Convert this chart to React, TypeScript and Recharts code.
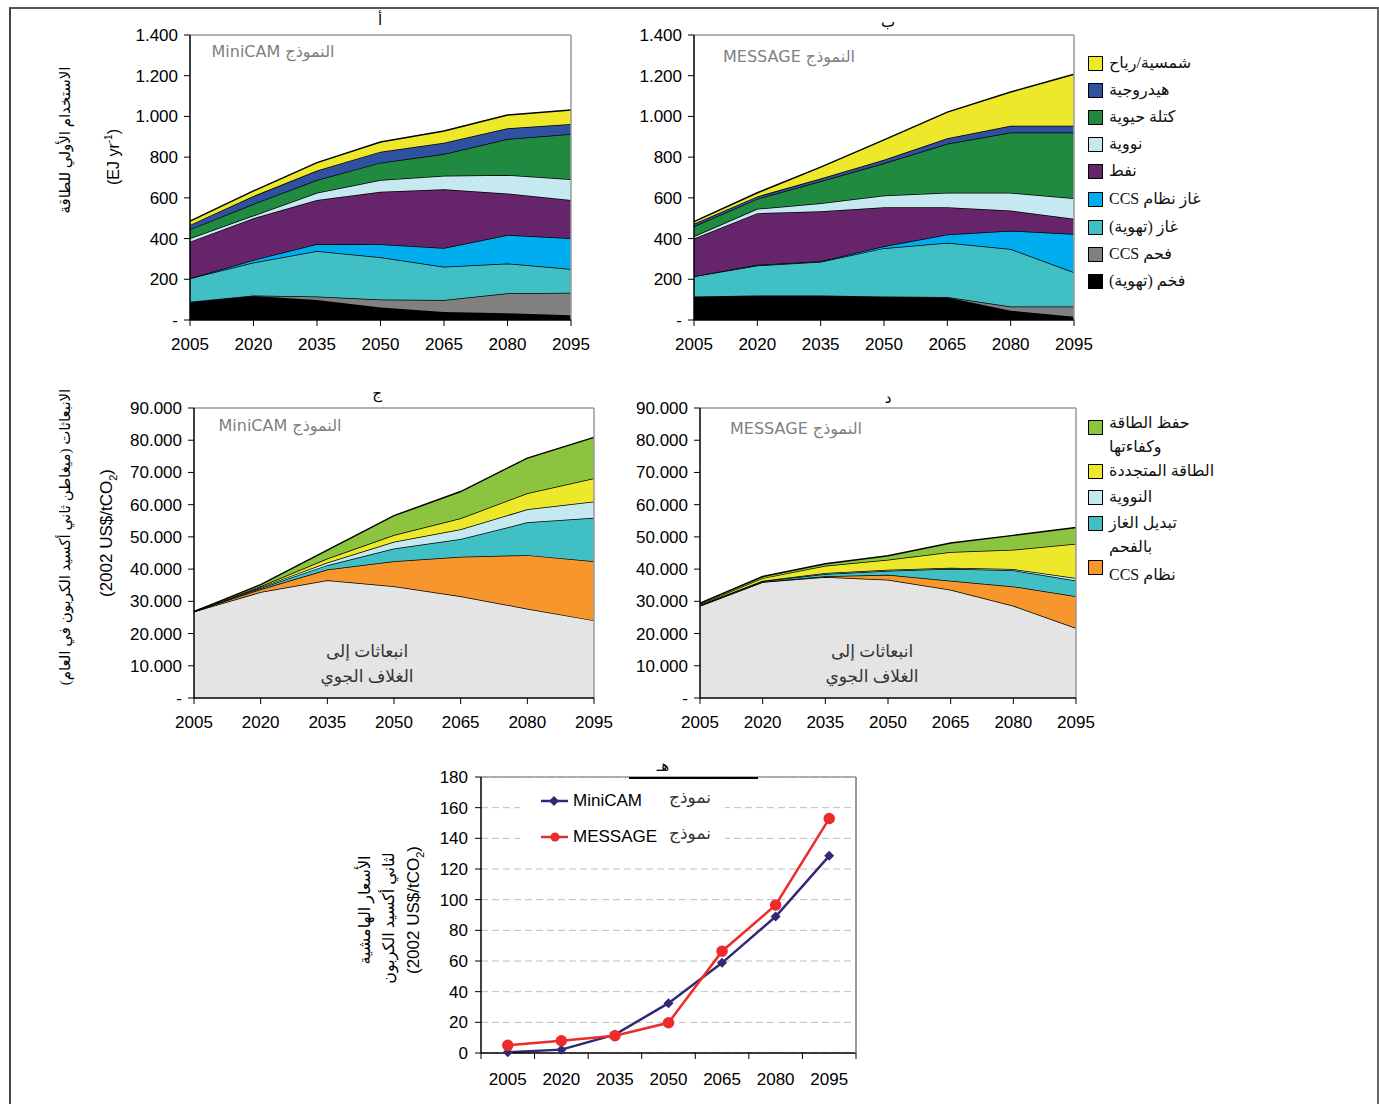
import React from 'react';
import { AreaChart, Area, LineChart, Line, XAxis, YAxis, CartesianGrid, ReferenceLine } from 'recharts';

const years = ['2005', '2020', '2035', '2050', '2065', '2080', '2095'];

// Primary energy, EJ/yr - MiniCAM (chart أ)
const mcCoal = [90, 118, 98, 62, 39, 33, 23];
const mcCoalCcs = [0, 2, 17, 39, 59, 98, 111];
const mcGas = [115, 162, 224, 207, 164, 147, 116];
const mcGasCcs = [0, 13, 34, 64, 92, 140, 151];
const mcOil = [180, 205, 216, 258, 288, 204, 188];
const mcNuclear = [16, 13, 36, 58, 67, 90, 102];
const mcBiomass = [44, 57, 63, 85, 106, 177, 223];
const mcHydro = [22, 39, 46, 54, 56, 53, 49];
const mcSolar = [19, 25, 39, 47, 57, 65, 69];

// Primary energy, EJ/yr - MESSAGE (chart ب)
const msCoal = [115, 120, 120, 115, 110, 46, 16];
const msCoalCcs = [0, 0, 0, 0, 3, 20, 50];
const msGas = [100, 148, 166, 238, 266, 283, 168];
const msGasCcs = [0, 3, 3, 9, 41, 90, 189];
const msOil = [185, 254, 245, 192, 134, 99, 74];
const msNuclear = [11, 21, 40, 57, 71, 87, 101];
const msBiomass = [49, 49, 108, 159, 241, 296, 323];
const msHydro = [13, 12, 13, 17, 27, 33, 33];
const msSolar = [10, 18, 56, 98, 128, 166, 253];

// Emissions - MiniCAM (chart ج)
const mcAtm = [26800, 32900, 36550, 34680, 31570, 27730, 24090];
const mcCcs = [0, 850, 3330, 7790, 12250, 16610, 18380];
const mcSwitch = [0, 350, 1350, 3950, 5510, 10180, 13500];
const mcNuc = [0, 300, 830, 2070, 3010, 4050, 4990];
const mcRen = [0, 300, 1240, 2080, 3420, 4980, 7260];
const mcEff = [0, 500, 2600, 6020, 8310, 10910, 12670];

// Emissions - MESSAGE (chart د)
const msAtm = [28650, 36000, 37540, 36710, 33610, 28650, 21720];
const msCcs = [0, 100, 210, 1550, 2790, 5990, 9820];
const msSwitch = [200, 200, 720, 1240, 3720, 4970, 4960];
const msNuc = [100, 100, 310, 310, 310, 410, 730];
const msRen = [200, 800, 2270, 3110, 4860, 6000, 10650];
const msEff = [300, 500, 630, 1240, 2800, 4450, 5070];

// Marginal carbon price (chart هـ)
const priceMiniCam = [0.5, 2.2, 12, 32.5, 58.8, 89, 128.6];
const priceMessage = [5, 8, 11.3, 19.7, 66.4, 96.5, 152.9];

const energyTicks = [0, 200, 400, 600, 800, 1000, 1200, 1400];
const emissionTicks = [0, 10000, 20000, 30000, 40000, 50000, 60000, 70000, 80000, 90000];
const priceTicks = [0, 20, 40, 60, 80, 100, 120, 140, 160, 180];

const energyLayers = [
  { key: 'coal', name: 'فخم (تهوية)', color: '#000000' },
  { key: 'coalCcs', name: 'فحم CCS', color: '#808080' },
  { key: 'gas', name: 'غاز (تهوية)', color: '#40C0C4' },
  { key: 'gasCcs', name: 'غاز نظام CCS', color: '#00AEEF' },
  { key: 'oil', name: 'نفط', color: '#66256A' },
  { key: 'nuclear', name: 'نووية', color: '#C6E8F0' },
  { key: 'biomass', name: 'كتلة حيوية', color: '#1F8A40' },
  { key: 'hydro', name: 'هيدروجية', color: '#3050A0' },
  { key: 'solar', name: 'شمسية/رياح', color: '#EEE82A' },
];

const emissionLayers = [
  { key: 'atm', color: '#E4E4E4' },
  { key: 'ccs', color: '#F7962D' },
  { key: 'switch', color: '#40C0C4' },
  { key: 'nuc', color: '#C6E8F0' },
  { key: 'ren', color: '#EEE82A' },
  { key: 'eff', color: '#8DC43F' },
];

const energyMini = years.map((year, i) => ({
  year, coal: mcCoal[i], coalCcs: mcCoalCcs[i], gas: mcGas[i], gasCcs: mcGasCcs[i], oil: mcOil[i],
  nuclear: mcNuclear[i], biomass: mcBiomass[i], hydro: mcHydro[i], solar: mcSolar[i],
}));
const energyMessage = years.map((year, i) => ({
  year, coal: msCoal[i], coalCcs: msCoalCcs[i], gas: msGas[i], gasCcs: msGasCcs[i], oil: msOil[i],
  nuclear: msNuclear[i], biomass: msBiomass[i], hydro: msHydro[i], solar: msSolar[i],
}));
const emisMini = years.map((year, i) => ({
  year, atm: mcAtm[i], ccs: mcCcs[i], switch: mcSwitch[i], nuc: mcNuc[i], ren: mcRen[i], eff: mcEff[i],
}));
const emisMessage = years.map((year, i) => ({
  year, atm: msAtm[i], ccs: msCcs[i], switch: msSwitch[i], nuc: msNuc[i], ren: msRen[i], eff: msEff[i],
}));
const priceData = years.map((year, i) => ({ year, minicam: priceMiniCam[i], message: priceMessage[i] }));

const AXIS_FONT = "'Liberation Sans', Arial, sans-serif";
const AR_FONT = "'Liberation Serif', 'DejaVu Sans', serif";
const BOX_FONT = "'DejaVu Sans', Verdana, sans-serif";

const dotted = (v: number) => (v === 0 ? '-' : String(v).replace(/\B(?=(\d{3})+(?!\d))/g, '.'));

const tickStyle = { fill: '#000', fontSize: 17, fontFamily: AXIS_FONT };

type StackProps = {
  data: any[];
  layers: { key: string; color: string }[];
  width: number;
  height: number;
  ticks: number[];
  yWidth: number;
};

const StackChart = ({ data, layers, width, height, ticks, yWidth }: StackProps) => (
  <AreaChart width={width} height={height} data={data} margin={{ top: 15, right: 20, left: 0, bottom: 0 }}>
    <XAxis dataKey="year" interval={0} height={40} tickMargin={12} tick={tickStyle}
      axisLine={{ stroke: '#000', strokeWidth: 1.5 }} tickLine={{ stroke: '#000' }} />
    <YAxis domain={[0, ticks[ticks.length - 1]]} ticks={ticks} interval={0} width={yWidth} tickMargin={6}
      tickFormatter={dotted} tick={tickStyle} axisLine={{ stroke: '#000', strokeWidth: 1.5 }} tickLine={{ stroke: '#000' }} />
    {layers.map((l) => (
      <Area key={l.key} type="linear" dataKey={l.key} stackId="s" stroke="#000" strokeWidth={1.5}
        fill={l.color} fillOpacity={1} dot={false} activeDot={false} isAnimationActive={false} />
    ))}
    <ReferenceLine y={ticks[ticks.length - 1]} stroke="#999" strokeWidth={1.5} />
    <ReferenceLine x={years[years.length - 1]} stroke="#999" strokeWidth={1.5} />
  </AreaChart>
);

// bottom chart geometry
const P_W = 465;
const P_H = 331;
const P_PLOT_W = 375;
const STEP = P_PLOT_W / years.length;
const P_AXIS_Y = P_H - 40;

const PriceTick = (props: any) => {
  const { x, payload, index } = props;
  return (
    <g>
      <line x1={x - STEP / 2} x2={x - STEP / 2} y1={P_AXIS_Y} y2={P_AXIS_Y + 6} stroke="#000" />
      {index === years.length - 1 && (
        <line x1={x + STEP / 2} x2={x + STEP / 2} y1={P_AXIS_Y} y2={P_AXIS_Y + 6} stroke="#000" />
      )}
      <text x={x} y={P_AXIS_Y + 32} textAnchor="middle" fill="#000" fontSize={17} fontFamily={AXIS_FONT}>
        {payload.value}
      </text>
    </g>
  );
};

const Diamond = (props: any) => {
  const { cx, cy, index } = props;
  return <polygon key={`d${index}`} points={`${cx},${cy - 5} ${cx + 5},${cy} ${cx},${cy + 5} ${cx - 5},${cy}`} fill="#2E2A78" />;
};

const Txt = ({ x, y, children, style }: { x: number; y: number; children: React.ReactNode; style?: React.CSSProperties }) => (
  <div style={{ position: 'absolute', left: x, top: y, transform: 'translate(-50%, -50%)', whiteSpace: 'nowrap', ...style }}>
    {children}
  </div>
);

const VTxt = ({ x, y, children, style }: { x: number; y: number; children: React.ReactNode; style?: React.CSSProperties }) => (
  <div style={{ position: 'absolute', left: x, top: y, transform: 'translate(-50%, -50%) rotate(-90deg)', whiteSpace: 'nowrap', ...style }}>
    {children}
  </div>
);

const LegendRow = ({ y, color, lines, textY }: { y: number; color: string; lines: string[]; textY?: number }) => (
  <>
    <div style={{ position: 'absolute', left: 1088, top: y - 7, width: 13, height: 13, background: color, border: '1px solid #000' }} />
    <div style={{ position: 'absolute', left: 1109, top: (textY ?? y) - 12, fontFamily: AR_FONT, fontSize: 16, lineHeight: '24px', color: '#111', whiteSpace: 'nowrap', direction: 'ltr', textAlign: 'left' }}>
      {lines.map((t) => (
        <div key={t}><span dir="rtl">{t}</span></div>
      ))}
    </div>
  </>
);

const energyLegendY = [281, 254, 227, 199, 171, 144, 117, 90, 63];

const modelLabel = { fontFamily: BOX_FONT, fontSize: 16, color: '#808080' };
const arLabel = { fontFamily: AR_FONT, fontSize: 17, color: '#333' };

export default function App() {
  return (
    <div style={{ position: 'absolute', left: 0, top: 0, width: 1379, height: 1104, background: '#fff', overflow: 'hidden' }}>
      <div style={{ position: 'absolute', left: 9, top: 7, width: 1366, height: 1110, borderTop: '2px solid #555', borderLeft: '2px solid #444', borderRight: '2px solid #666' }} />

      {/* charts */}
      <div style={{ position: 'absolute', left: 100, top: 20 }}>
        <StackChart data={energyMini} layers={energyLayers} width={491} height={340} ticks={energyTicks} yWidth={90} />
      </div>
      <div style={{ position: 'absolute', left: 604, top: 20 }}>
        <StackChart data={energyMessage} layers={energyLayers} width={490} height={340} ticks={energyTicks} yWidth={90} />
      </div>
      <div style={{ position: 'absolute', left: 104, top: 393 }}>
        <StackChart data={emisMini} layers={emissionLayers} width={510} height={345} ticks={emissionTicks} yWidth={90} />
      </div>
      <div style={{ position: 'absolute', left: 610, top: 393 }}>
        <StackChart data={emisMessage} layers={emissionLayers} width={486} height={345} ticks={emissionTicks} yWidth={90} />
      </div>
      <div style={{ position: 'absolute', left: 411, top: 762 }}>
        <LineChart width={P_W} height={P_H} data={priceData} margin={{ top: 15, right: 20, left: 0, bottom: 0 }}>
          <CartesianGrid vertical={false} stroke="#BDBDBD" strokeDasharray="7 4" />
          <XAxis dataKey="year" interval={0} height={40} padding={{ left: STEP / 2, right: STEP / 2 }}
            tick={<PriceTick />} tickLine={false} axisLine={{ stroke: '#000', strokeWidth: 1.5 }} />
          <YAxis domain={[0, 180]} ticks={priceTicks} interval={0} width={70} tickMargin={7} tick={tickStyle}
            axisLine={{ stroke: '#000', strokeWidth: 1.5 }} tickLine={{ stroke: '#000' }} />
          <ReferenceLine y={180} stroke="#999" strokeWidth={1.5} />
          <Line type="linear" dataKey="minicam" stroke="#2E2A78" strokeWidth={2.5} dot={<Diamond />} activeDot={false} isAnimationActive={false} />
          <Line type="linear" dataKey="message" stroke="#EE2B2B" strokeWidth={2.5} dot={{ r: 4.5, fill: '#EE2B2B', stroke: '#EE2B2B' }} activeDot={false} isAnimationActive={false} />
        </LineChart>
      </div>

      {/* bottom chart frame + legend */}
      <div style={{ position: 'absolute', left: 855, top: 777, width: 1.5, height: 276, background: '#999' }} />
      <div style={{ position: 'absolute', left: 520, top: 784, width: 205, height: 70, background: '#fff' }} />
      <div style={{ position: 'absolute', left: 629, top: 777, width: 129, height: 1.5, background: '#000' }} />
      <svg style={{ position: 'absolute', left: 535, top: 785 }} width={40} height={65}>
        <line x1={6} x2={33} y1={16} y2={16} stroke="#2E2A78" strokeWidth={2.5} />
        <polygon points="19,11 24,16 19,21 14,16" fill="#2E2A78" />
        <line x1={6} x2={33} y1={52} y2={52} stroke="#EE2B2B" strokeWidth={2.5} />
        <circle cx={20} cy={52} r={4.5} fill="#EE2B2B" />
      </svg>
      <div style={{ position: 'absolute', left: 573, top: 791, fontFamily: AXIS_FONT, fontSize: 17 }}>MiniCAM</div>
      <div style={{ position: 'absolute', left: 573, top: 827, fontFamily: AXIS_FONT, fontSize: 17 }}>MESSAGE</div>
      <Txt x={690} y={797} style={arLabel}>نموذج</Txt>
      <Txt x={690} y={833} style={arLabel}>نموذج</Txt>

      {/* panel titles */}
      <Txt x={380} y={20} style={{ fontFamily: AR_FONT, fontSize: 15 }}>أ</Txt>
      <Txt x={888} y={22} style={{ fontFamily: AR_FONT, fontSize: 15 }}>ب</Txt>
      <Txt x={377} y={393} style={{ fontFamily: AR_FONT, fontSize: 15 }}>ج</Txt>
      <Txt x={888} y={398} style={{ fontFamily: AR_FONT, fontSize: 15 }}>د</Txt>
      <Txt x={663} y={766} style={{ fontFamily: AR_FONT, fontSize: 15 }}>هـ</Txt>

      {/* in-plot labels */}
      <Txt x={273} y={51} style={modelLabel}><span dir="rtl">النموذج MiniCAM</span></Txt>
      <Txt x={789} y={56} style={modelLabel}><span dir="rtl">النموذج MESSAGE</span></Txt>
      <Txt x={280} y={425} style={modelLabel}><span dir="rtl">النموذج MiniCAM</span></Txt>
      <Txt x={796} y={428} style={modelLabel}><span dir="rtl">النموذج MESSAGE</span></Txt>
      <Txt x={367} y={651} style={arLabel}>انبعاثات إلى</Txt>
      <Txt x={367} y={676} style={arLabel}>الغلاف الجوي</Txt>
      <Txt x={872} y={651} style={arLabel}>انبعاثات إلى</Txt>
      <Txt x={872} y={676} style={arLabel}>الغلاف الجوي</Txt>

      {/* axis titles */}
      <VTxt x={65} y={140} style={{ fontFamily: AR_FONT, fontSize: 15 }}>الاستخدام الأولي للطاقة</VTxt>
      <VTxt x={113} y={157} style={{ fontFamily: AXIS_FONT, fontSize: 16 }}>(EJ yr<sup style={{ fontSize: 10 }}>-1</sup>)</VTxt>
      <VTxt x={65} y={537} style={{ fontFamily: AR_FONT, fontSize: 15 }}>الانبعاثات (ميغاطن ثاني أكسيد الكربون في العام)</VTxt>
      <VTxt x={108} y={533} style={{ fontFamily: AXIS_FONT, fontSize: 17 }}>(2002 US$/tCO<sub style={{ fontSize: 11 }}>2</sub>)</VTxt>
      <VTxt x={364} y={910} style={{ fontFamily: AR_FONT, fontSize: 16 }}>الأسعار الهامشية</VTxt>
      <VTxt x={388} y={918} style={{ fontFamily: AR_FONT, fontSize: 16 }}>لثاني أكسيد الكربون</VTxt>
      <VTxt x={415} y={910} style={{ fontFamily: AXIS_FONT, fontSize: 17 }}>(2002 US$/tCO<sub style={{ fontSize: 11 }}>2</sub>)</VTxt>

      {/* energy legend */}
      {energyLayers.map((l, i) => (
        <LegendRow key={l.key} y={energyLegendY[i]} color={l.color} lines={[l.name]} />
      ))}

      {/* emissions legend */}
      <LegendRow y={427} textY={423} color="#8DC43F" lines={['حفظ الطاقة', 'وكفاءتها']} />
      <LegendRow y={471} color="#EEE82A" lines={['الطاقة المتجددة']} />
      <LegendRow y={497} color="#C6E8F0" lines={['النووية']} />
      <LegendRow y={523} color="#40C0C4" lines={['تبديل الغاز', 'بالفحم']} />
      <LegendRow y={567} textY={575} color="#F7962D" lines={['نظام CCS']} />
    </div>
  );
}
